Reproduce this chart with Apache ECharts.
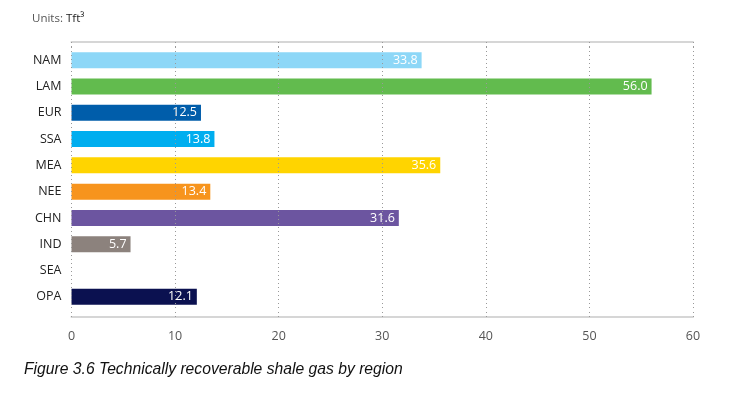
<!DOCTYPE html>
<html><head><meta charset="utf-8">
<script src="https://cdn.jsdelivr.net/npm/echarts@6/dist/echarts.min.js"></script>
<style>html,body{margin:0;padding:0;background:#fff}#c{width:748px;height:396px}</style>
</head><body><div id="c"></div>
<script>
const categories = ["NAM","LAM","EUR","SSA","MEA","NEE","CHN","IND","SEA","OPA"];
const values = [33.8, 56.0, 12.5, 13.8, 35.6, 13.4, 31.6, 5.7, null, 12.1];
const colors = ["#8DD7F7","#62BB4E","#005DAA","#00AEEF","#FFD400","#F7941D","#6C55A0","#8C827D","#CCCCCC","#0B1150"];
const xTicks = [0,10,20,30,40,50,60];

const chart = echarts.init(document.getElementById('c'), null, {renderer:'canvas'});
chart.setOption({
  animation:false,
  backgroundColor:'#fff',
  title:[{
    text:'{a|Units: }{b|Tft³}', left:27, top:8,
    textStyle:{rich:{a:{fontFamily:'Open Sans',fontSize:11.5,color:'#555',fontWeight:'normal'},b:{fontFamily:'Open Sans',fontSize:11.5,color:'#222',fontWeight:'normal'}}}
  },{
    text:'Figure 3.6 Technically recoverable shale gas by region', left:19, top:357,
    textStyle:{fontFamily:'Liberation Sans',fontSize:15.7,fontStyle:'italic',fontWeight:'normal',color:'#111'}
  }],
  grid:{left:71.5,right:55,top:47,bottom:86},
  xAxis:[{
    type:'value', min:0, max:60, interval:10, z:5,
    offset:7,
    axisLine:{show:true,lineStyle:{color:'#d6d6d6',width:2}},
    axisTick:{show:true,inside:true,length:7,lineStyle:{type:[1,3],color:'#999',width:1}},
    axisLabel:{color:'#555',fontSize:12.5,fontFamily:'Open Sans',margin:13,
      formatter:v=>xTicks.includes(v)?String(v):''},
    splitLine:{show:true,lineStyle:{type:[1,3],color:'#999',width:1}}
  },{
    type:'value', min:0, max:60, interval:10, position:'top', offset:5, z:5,
    axisLine:{show:true,lineStyle:{color:'#d6d6d6',width:2}},
    axisTick:{show:true,inside:true,length:5,lineStyle:{type:[1,3],color:'#999',width:1}},
    axisLabel:{show:false}, splitLine:{show:false}
  }],
  yAxis:{
    type:'category', data:categories, inverse:true,
    axisLine:{show:false}, axisTick:{show:false},
    axisLabel:{color:'#222',fontSize:12.5,fontFamily:'Open Sans',margin:10}
  },
  series:[{
    type:'bar', barWidth:16,
    data:values.map((v,i)=>({value:v,itemStyle:{color:colors[i]}})),
    label:{show:true,position:'insideRight',distance:4,color:'#fff',fontSize:12.5,
      fontFamily:'Open Sans',formatter:p=>p.value==null?'':p.value.toFixed(1)}
  }]
});
</script></body></html>
